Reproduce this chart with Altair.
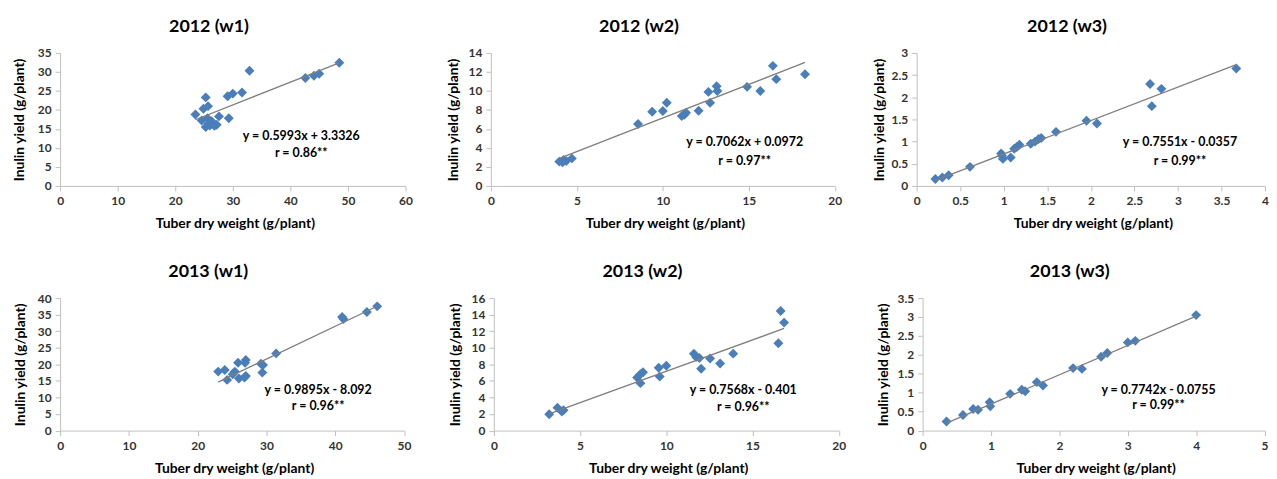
import altair as alt
import pandas as pd

# ---------------- data ----------------
titles = ["2012 (w1)", "2012 (w2)", "2012 (w3)", "2013 (w1)", "2013 (w2)", "2013 (w3)"]

x_2012_w1 = [23.5, 24.6, 24.9, 25.3, 25.7, 25.3, 25.8, 26.3, 26.0, 26.8, 27.2, 27.6,
             29.1, 29.3, 30.0, 31.6, 32.9, 42.6, 44.1, 45.0, 48.5, 26.5, 25.6]
y_2012_w1 = [18.8, 17.2, 20.3, 23.3, 21.0, 15.5, 16.4, 17.0, 15.9, 15.8, 16.1, 18.3,
             23.6, 17.8, 24.3, 24.6, 30.3, 28.4, 29.0, 29.5, 32.4, 16.6, 17.8]

x_2012_w2 = [3.98, 4.23, 4.17, 4.38, 4.71, 8.56, 9.38, 10.0, 10.23, 11.1, 11.35, 11.25,
             12.08, 12.65, 12.75, 13.13, 13.17, 14.9, 15.67, 16.4, 16.6, 18.27]
y_2012_w2 = [2.56, 2.73, 2.49, 2.63, 2.90, 6.51, 7.80, 7.88, 8.75, 7.35, 7.70, 7.50,
             7.91, 9.90, 8.75, 10.50, 10.00, 10.43, 10.00, 12.64, 11.24, 11.76]

x_2012_w3 = [0.215, 0.295, 0.367, 0.612, 0.97, 0.99, 1.08, 1.12, 1.18, 1.31, 1.36, 1.40,
             1.43, 1.60, 1.95, 2.07, 2.68, 2.70, 2.81, 3.67, 1.15, 0.98]
y_2012_w3 = [0.156, 0.19, 0.24, 0.43, 0.73, 0.61, 0.64, 0.84, 0.93, 0.95, 1.00, 1.06,
             1.08, 1.22, 1.47, 1.41, 2.30, 1.80, 2.19, 2.65, 0.88, 0.68]

x_2013_w1 = [22.98, 23.94, 24.28, 25.1, 25.4, 25.87, 26.0, 26.9, 27.0, 27.0, 26.8, 29.2,
             29.5, 29.4, 31.4, 41.0, 41.2, 44.6, 46.1]
y_2013_w1 = [17.8, 18.3, 15.3, 17.0, 17.8, 20.5, 15.7, 20.5, 21.3, 16.5, 16.0, 20.2,
             19.8, 17.5, 23.3, 34.3, 33.7, 35.8, 37.5]

x_2013_w2 = [3.21, 3.69, 3.94, 4.04, 8.31, 8.5, 8.65, 8.5, 9.56, 9.62, 10.0, 11.6,
             11.73, 11.92, 12.02, 12.54, 13.12, 13.88, 16.5, 16.63, 16.83]
y_2013_w2 = [1.98, 2.77, 2.29, 2.45, 6.40, 6.80, 7.04, 5.73, 7.59, 6.52, 7.83, 9.29,
             8.89, 8.77, 7.47, 8.70, 8.10, 9.29, 10.55, 14.43, 13.04]

x_2013_w3 = [0.35, 0.59, 0.74, 0.81, 0.98, 0.99, 1.28, 1.45, 1.50, 1.67, 1.76, 2.2,
             2.33, 2.61, 2.70, 3.00, 3.11, 4.0]
y_2013_w3 = [0.24, 0.41, 0.57, 0.55, 0.75, 0.64, 0.97, 1.08, 1.04, 1.28, 1.19, 1.65,
             1.63, 1.95, 2.05, 2.33, 2.37, 3.05]

slopes = [0.5993, 0.7062, 0.7551, 0.9895, 0.7568, 0.7742]
intercepts = [3.3326, 0.0972, -0.0357, -8.092, -0.401, -0.0755]
equations = ["y = 0.5993x + 3.3326", "y = 0.7062x + 0.0972", "y = 0.7551x - 0.0357",
             "y = 0.9895x - 8.092", "y = 0.7568x - 0.401", "y = 0.7742x - 0.0755"]
r_texts = ["r = 0.86**", "r = 0.97**", "r = 0.99**", "r = 0.96**", "r = 0.96**", "r = 0.99**"]

x_ticks = [
    [0, 10, 20, 30, 40, 50, 60],
    [0, 5, 10, 15, 20],
    [0, 0.5, 1, 1.5, 2, 2.5, 3, 3.5, 4],
    [0, 10, 20, 30, 40, 50],
    [0, 5, 10, 15, 20],
    [0, 1, 2, 3, 4, 5],
]
y_ticks = [
    [0, 5, 10, 15, 20, 25, 30, 35],
    [0, 2, 4, 6, 8, 10, 12, 14],
    [0, 0.5, 1, 1.5, 2, 2.5, 3],
    [0, 5, 10, 15, 20, 25, 30, 35, 40],
    [0, 2, 4, 6, 8, 10, 12, 14, 16],
    [0, 0.5, 1, 1.5, 2, 2.5, 3, 3.5],
]

xs_all = [x_2012_w1, x_2012_w2, x_2012_w3, x_2013_w1, x_2013_w2, x_2013_w3]
ys_all = [y_2012_w1, y_2012_w2, y_2012_w3, y_2013_w1, y_2013_w2, y_2013_w3]

# ---------------- layout / style ----------------
FONT = "Lato"
BLUE = "#4a7ebb"
widths = [348, 346.5, 351, 346.5, 347.5, 344.5]
heights = [134, 134, 134, 133.5, 133.5, 133.5]
gaps_row1 = [86, 81.5]
gaps_row2 = [89.5, 84]
ytitle_pad = [6, 3, 2, 5, 4, 4]
eq_pos = [(243, 83.5, 100.5), (255.7, 90, 108.5), (265.3, 89.5, 108.5),
          (260, 92.3, 109), (251.3, 92.3, 110), (237.7, 92.3, 107.3)]

LABEL_EXPR = "format(datum.value, '.2~f')"


def txt(s, x, y, size):
    return alt.Chart(pd.DataFrame({"t": [s]})).mark_text(
        font=FONT, fontWeight="bold", fontSize=size, color="black", align="center", baseline="middle"
    ).encode(x=alt.value(x), y=alt.value(y), text="t:N")


def spacer(w):
    return alt.Chart(pd.DataFrame({"t": [""]})).mark_text(opacity=0).encode(
        x=alt.value(0), y=alt.value(0), text="t:N").properties(width=w, height=1)


def panel(i):
    xs, ys = xs_all[i], ys_all[i]
    w = widths[i]
    df = pd.DataFrame({"x": xs, "y": ys})
    x0, x1 = min(xs), max(xs)
    line_df = pd.DataFrame({"x": [x0, x1],
                            "y": [slopes[i] * x0 + intercepts[i], slopes[i] * x1 + intercepts[i]]})
    xt, yt = x_ticks[i], y_ticks[i]
    xenc = alt.X("x:Q", scale=alt.Scale(domain=[xt[0], xt[-1]], nice=False),
                 axis=alt.Axis(title="Tuber dry weight (g/plant)", values=xt, tickCount=len(xt) + 2,
                               labelExpr=LABEL_EXPR, labelFlush=False, labelOverlap=False,
                               titleX=w / 2 + 2, titlePadding=10, labelPadding=5, tickSize=5))
    yenc = alt.Y("y:Q", scale=alt.Scale(domain=[yt[0], yt[-1]], nice=False),
                 axis=alt.Axis(title="Inulin yield (g/plant)", values=yt, tickCount=len(yt) + 2,
                               labelExpr=LABEL_EXPR, labelFlush=False, labelOverlap=False,
                               minExtent=28, maxExtent=28,
                               titlePadding=ytitle_pad[i], labelPadding=4, tickSize=5))
    pts = alt.Chart(df).mark_point(shape="diamond", filled=True, size=100, color=BLUE,
                                   opacity=1, strokeWidth=0).encode(x=xenc, y=yenc)
    line = alt.Chart(line_df).mark_line(color="#7f7f7f", strokeWidth=1.3).encode(x="x:Q", y="y:Q")
    tx, ty1, ty2 = eq_pos[i]
    ttl = txt(titles[i], w / 2 - 24, -26, 18)
    return alt.layer(pts, line, txt(equations[i], tx, ty1, 12.5), txt(r_texts[i], tx, ty2, 12.5), ttl
                     ).properties(width=w, height=heights[i])


row1 = alt.hconcat(panel(0), spacer(gaps_row1[0]), panel(1), spacer(gaps_row1[1]), panel(2),
                   spacing=0, bounds="flush")
row2 = alt.hconcat(panel(3), spacer(gaps_row2[0]), panel(4), spacer(gaps_row2[1]), panel(5),
                   spacing=0, bounds="flush")

chart = alt.vconcat(row1, row2, spacing=33).properties(
    padding={"left": 3.5, "top": 8.5, "right": 0, "bottom": 0}
).configure_view(stroke=None).configure_axis(
    domainColor="#bfbfbf", tickColor="#bfbfbf", grid=False,
    labelFont=FONT, labelFontWeight="bold", labelFontSize=12, labelColor="#333333",
    titleFont=FONT, titleFontWeight="bold", titleFontSize=14, titleColor="black",
)

chart.save("out.html", embed_options={"renderer": "svg", "actions": False})
